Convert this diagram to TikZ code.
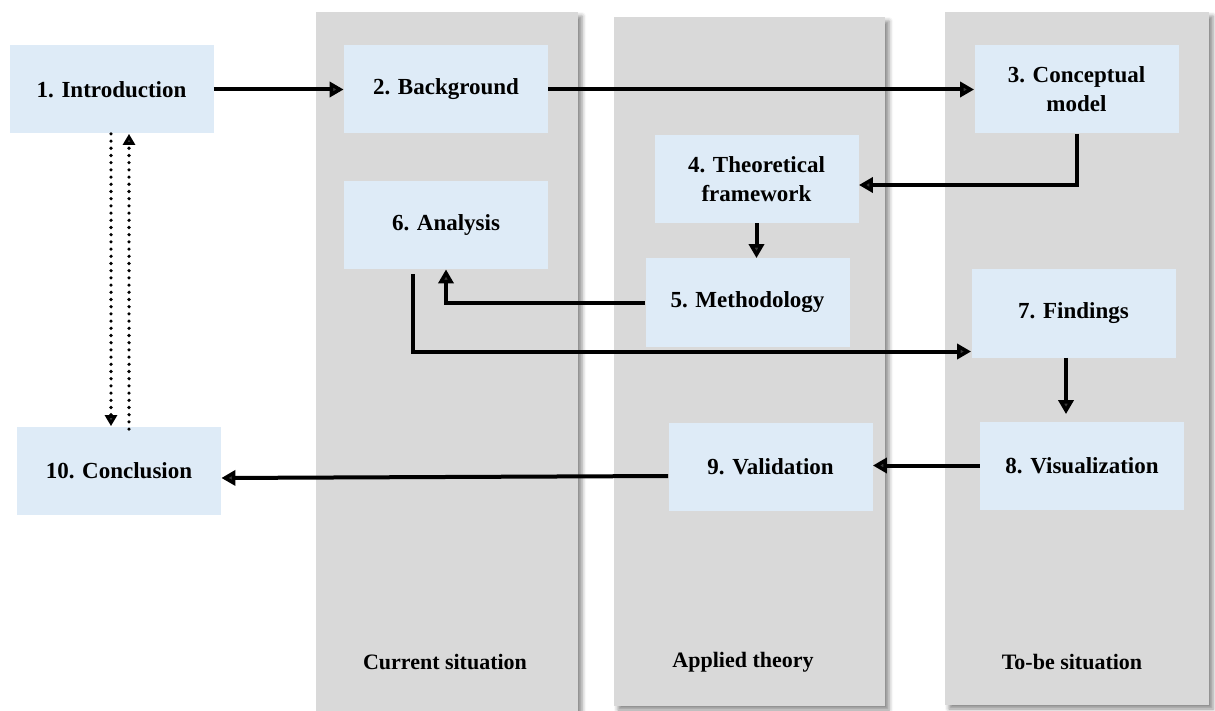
\documentclass[tikz,border=0pt]{standalone}
\usepackage{fontspec}
\setmainfont{Liberation Serif}
\usetikzlibrary{arrows.meta,shadows.blur}
\definecolor{boxfill}{RGB}{222,235,247}
\definecolor{lanefill}{RGB}{217,217,217}
\begin{document}
\begin{tikzpicture}[x=0.5pt,y=-0.5pt,
  stepbox/.style={fill=boxfill, minimum width=102pt, minimum height=44pt,
    inner sep=2pt, align=center, font=\fontsize{11.5}{14.5}\selectfont\bfseries},
  lane/.style={fill=lanefill, blur shadow={shadow xshift=2pt, shadow yshift=-2pt,
    shadow blur radius=2pt, shadow opacity=45}},
  lanelabel/.style={font=\fontsize{11}{13}\selectfont\bfseries},
  flow/.style={line width=2pt, -{Triangle[length=7pt,width=7.5pt]}},
  loop/.style={line width=1.8pt, dash pattern=on 0pt off 3.6pt, line cap=round,
    -{Triangle[length=5.5pt,width=6pt]}}
]
\useasboundingbox (0,0) rectangle (1215,711);

% swim lanes
\fill[lane] (316,12) rectangle (578,720);
\fill[lane] (614,17) rectangle (885,706);
\fill[lane] (945,12) rectangle (1209,705);
\node[lanelabel] (l1) at (445,662) {Current situation};
\node[lanelabel] (l2) at (743,662) {Applied theory};
\node[lanelabel] (l3) at (1072,662) {To-be situation};

% steps
\node[stepbox] (b1) at (111.5,89.5) {1. Introduction};
\node[stepbox] (b2) at (446,89.5) {2. Background};
\node[stepbox] (b3) at (1076.5,89.5) {3. Conceptual\\model};
\node[stepbox] (b4) at (756.5,179) {4. Theoretical\\framework};
\node[stepbox] (b5) at (747.5,302.5) {5. Methodology};
\node[stepbox] (b6) at (446,225) {6. Analysis};
\node[stepbox] (b7) at (1073.5,313.5) {7. Findings};
\node[stepbox] (b8) at (1082,465.5) {8. Visualization};
\node[stepbox] (b9) at (770.5,467) {9. Validation};
\node[stepbox] (b10) at (119,470.5) {10. Conclusion};

% flow between steps
\draw[flow] (b1) -- (b2);
\draw[flow] (b2) -- (b3);
\draw[flow] (b3.south) |- ([yshift=-3pt]b4.east);
\draw[flow] (b4.south) -- (b4.south |- b5.north);
\draw[flow] (b5.west) -| (b6.south);
\draw[flow] ([xshift=-16.5pt,yshift=-2.5pt]b6.south) |- ([yshift=-19pt]b7.west);
\coordinate (k7) at ([xshift=-3.75pt]b7.south);
\draw[flow, shorten >=3.5pt] (k7) -- (k7 |- b8.north);
\draw[flow] (b8.west) -- (b8.west -| b9.east);
\draw[flow] ([yshift=-4.5pt]b9.west) -- ([yshift=-3.75pt]b10.east);

% feedback between introduction and conclusion
\coordinate (dn) at ([xshift=-0.25pt]b1.south);
\coordinate (up) at ([xshift=8.75pt]b1.south);
\coordinate (upfoot) at (up |- b10.north);
\draw[loop] (dn) -- (dn |- b10.north);
\draw[loop] ([yshift=-1.5pt]upfoot) -- (up);
\end{tikzpicture}
\end{document}
